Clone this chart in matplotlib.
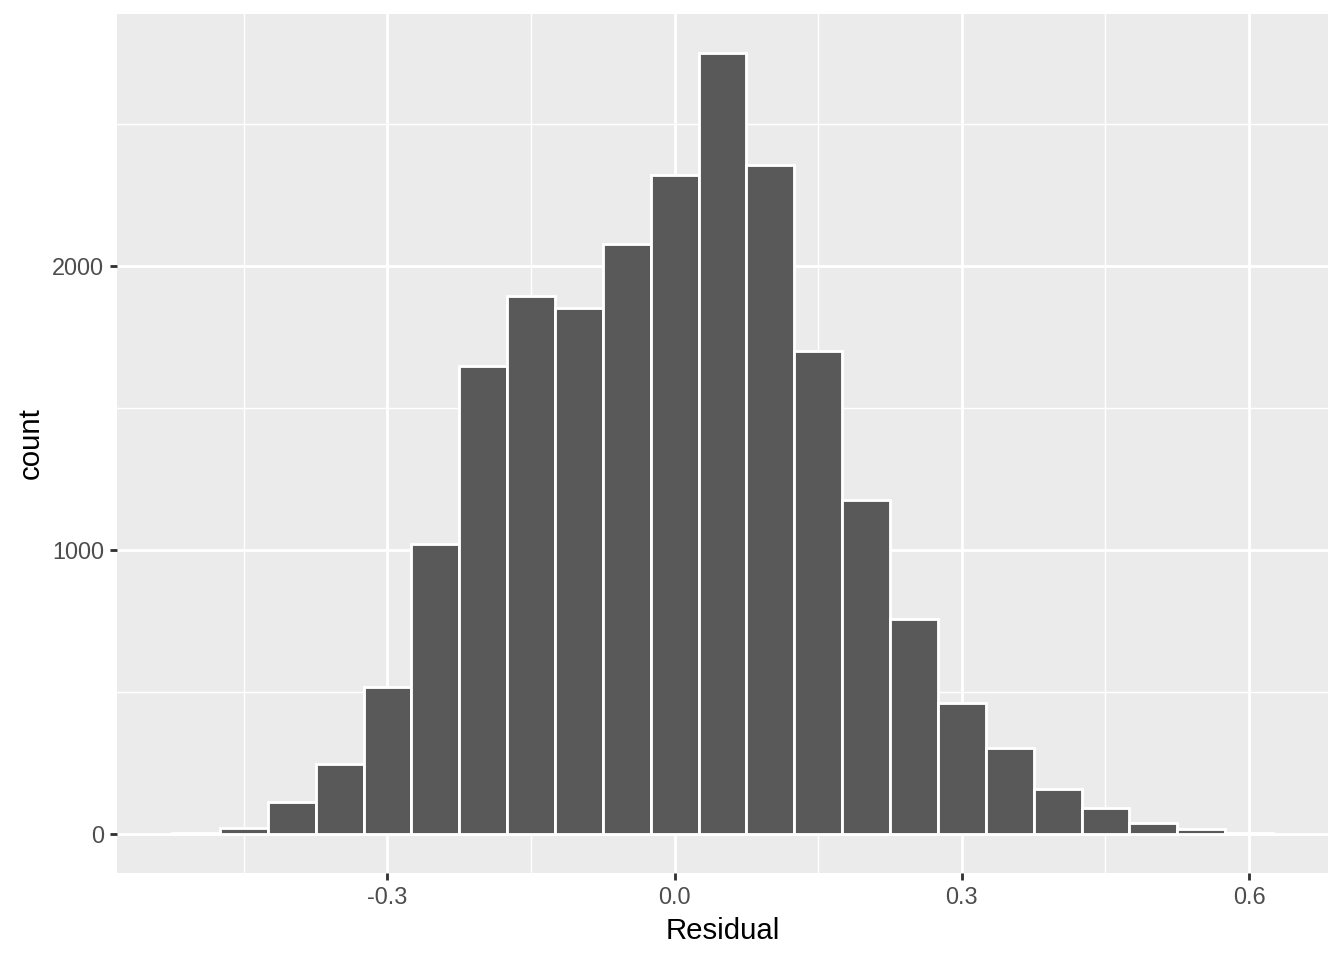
import numpy as np
import matplotlib.pyplot as plt

# residual histogram, binwidth 0.05
bin_centers = [-0.50, -0.45, -0.40, -0.35, -0.30, -0.25, -0.20, -0.15, -0.10, -0.05,
               0.00, 0.05, 0.10, 0.15, 0.20, 0.25, 0.30, 0.35, 0.40, 0.45,
               0.50, 0.55, 0.60]
counts = [2, 22, 111, 246, 517, 1023, 1647, 1894, 1852, 2078,
          2323, 2751, 2356, 1700, 1175, 758, 461, 304, 158, 92,
          40, 18, 2]
x_ticks = [-0.3, 0.0, 0.3, 0.6]
x_labels = ['-0.3', '0.0', '0.3', '0.6']
y_ticks = [0, 1000, 2000]
y_labels = ['0', '1000', '2000']

plt.rcParams['font.family'] = ['Liberation Sans', 'DejaVu Sans']

fig = plt.figure(figsize=(7, 5), dpi=192)
ax = fig.add_axes([0.0871, 0.0906, 0.9010, 0.8948])
ax.set_facecolor('#EBEBEB')

ax.bar(bin_centers, counts, width=0.05, color='#595959', edgecolor='white',
       linewidth=1.07, zorder=3)

bw = 0.05
lo, hi = min(bin_centers) - bw / 2, max(bin_centers) + bw / 2
pad = (hi - lo) * 0.05
ax.set_xlim(lo - pad, hi + pad)
ypad = max(counts) * 0.05
ax.set_ylim(-ypad, max(counts) + ypad)

ax.set_xticks(x_ticks)
ax.set_xticklabels(x_labels)
ax.set_yticks(y_ticks)
ax.set_yticklabels(y_labels)
ax.set_xticks([-0.45, -0.15, 0.15, 0.45], minor=True)
ax.set_yticks([500, 1500, 2500], minor=True)

ax.grid(which='major', color='white', linewidth=1.07, zorder=0)
ax.grid(which='minor', color='white', linewidth=0.53, zorder=0)
ax.set_axisbelow(True)

for s in ax.spines.values():
    s.set_visible(False)

ax.tick_params(which='major', length=2.75, width=1.07, color='#333333',
               labelsize=8.8, labelcolor='#4D4D4D', pad=2.2)
ax.tick_params(which='minor', length=0)

ax.set_xlabel('Residual', fontsize=11, color='black', labelpad=2.75)
ax.set_ylabel('count', fontsize=11, color='black', labelpad=2.75)

fig.savefig('out.png', dpi=192)
